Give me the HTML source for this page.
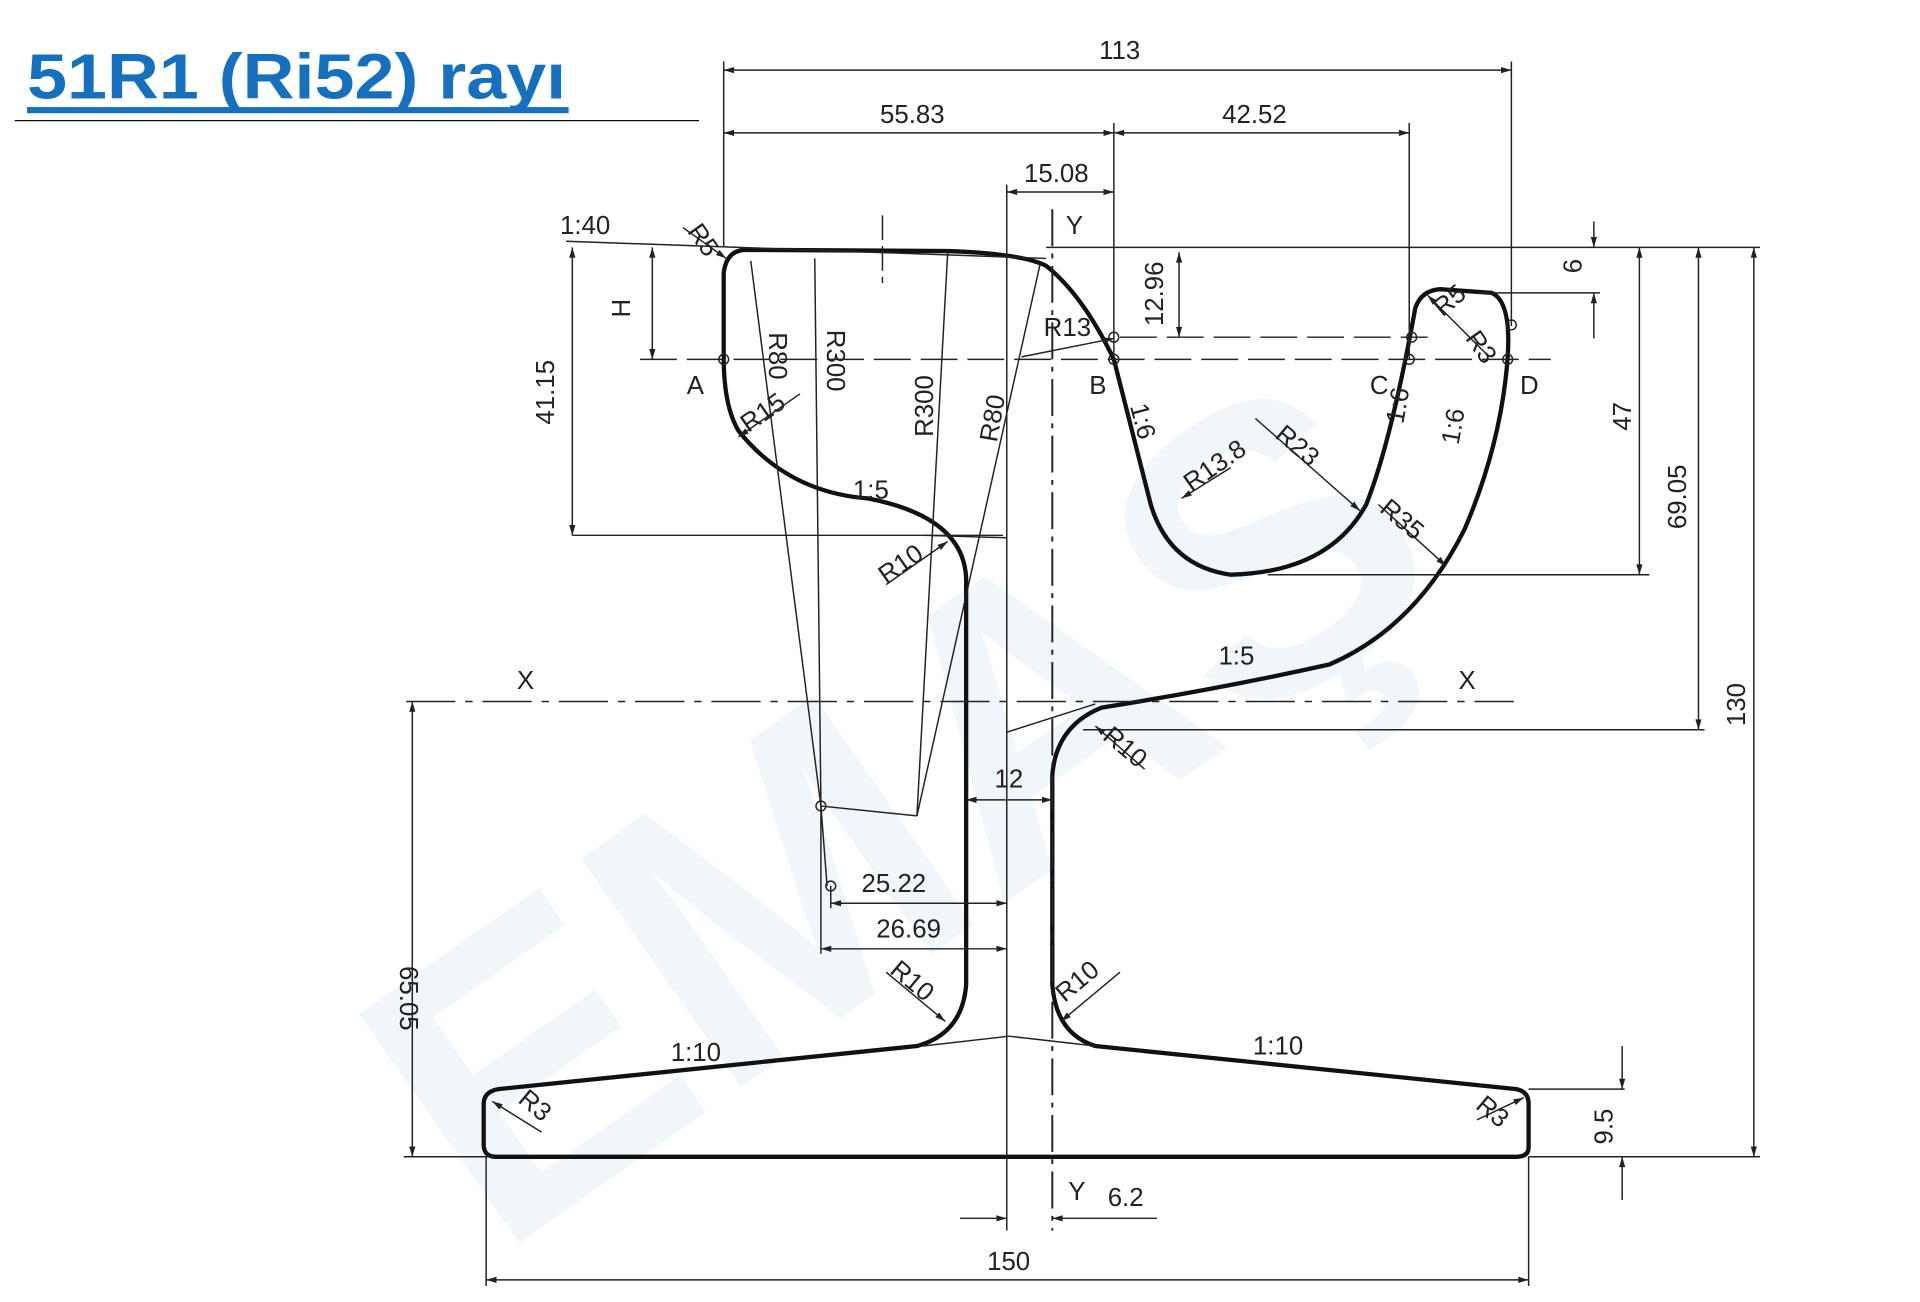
<!DOCTYPE html>
<html><head><meta charset="utf-8"><style>
html,body{margin:0;padding:0;background:#fff;}
svg{display:block}
text{font-family:"Liberation Sans",sans-serif;}
.d{font-size:21px;fill:#222}
</style></head><body>
<svg width="1920" height="1302" viewBox="0 0 1560 1058" preserveAspectRatio="none" xmlns="http://www.w3.org/2000/svg">
<defs><marker id="a" viewBox="0 0 10 10" refX="10" refY="5" markerWidth="10" markerHeight="7" orient="auto-start-reverse"><path d="M0,2 L10,5 L0,8z" fill="#222"/></marker></defs>
<text x="760" y="760" font-size="330" font-weight="bold" fill="#f1f6fb" transform="rotate(-35 760 700)" text-anchor="middle" style="font-family:'Liberation Sans',sans-serif">EMAŞ</text>
<text x="22" y="80" font-size="52" font-weight="bold" fill="#1670c0" textLength="438" lengthAdjust="spacingAndGlyphs">51R1 (Ri52) rayı</text>
<rect x="22" y="87" width="440" height="5" fill="#1670c0"/>
<line x1="12" y1="98" x2="568" y2="98" stroke="#111" stroke-width="1"/>
<path d="M605,203 L770,204 Q830,206 850,216 Q880,240 905,292 L935,410 Q950,460 1000,467 Q1080,465 1110,410 Q1130,360 1150,250 Q1155,236 1170,235 L1212,238 Q1228,245 1225,290 Q1220,360 1190,430 Q1150,510 1080,540 Q990,560 895,575 Q858,590 855,630 L855,800 Q858,840 890,850 L1232,885 Q1242,887 1242,897 L1242,932 Q1242,940 1232,940 L403,940 Q393,940 393,930 L393,897 Q393,887 405,885 L745,850 Q782,840 785,800 L785,470 Q783,420 705,405 Q640,400 600,350 Q588,330 588,290 L588,222 Q590,204 605,203 Z" fill="none" stroke="#111" stroke-width="3.5"/>
<g stroke="#222" stroke-width="1.2" fill="none">
<line x1="588" y1="57" x2="1228" y2="57" marker-start="url(#a)" marker-end="url(#a)"/>
<line x1="588" y1="50" x2="588" y2="200"/><line x1="1228" y1="50" x2="1228" y2="265"/>
<line x1="588" y1="108" x2="905" y2="108" marker-start="url(#a)" marker-end="url(#a)"/>
<line x1="905" y1="108" x2="1145" y2="108" marker-start="url(#a)" marker-end="url(#a)"/>
<line x1="905" y1="100" x2="905" y2="292"/><line x1="1145" y1="100" x2="1145" y2="292"/>
<line x1="818" y1="156" x2="905" y2="156" marker-start="url(#a)" marker-end="url(#a)"/>
<line x1="818" y1="150" x2="818" y2="1000"/>
<line x1="855" y1="170" x2="855" y2="1000" stroke-dasharray="30,6,4,6" stroke-width="1.6"/>
<line x1="850" y1="201" x2="1430" y2="201"/>
<line x1="1295" y1="180" x2="1295" y2="201" marker-end="url(#a)"/><line x1="1295" y1="275" x2="1295" y2="238" marker-end="url(#a)"/>
<line x1="1200" y1="238" x2="1300" y2="238"/>
<line x1="1332" y1="201" x2="1332" y2="467" marker-start="url(#a)" marker-end="url(#a)"/>
<line x1="1030" y1="467" x2="1340" y2="467"/>
<line x1="1380" y1="201" x2="1380" y2="593" marker-start="url(#a)" marker-end="url(#a)"/>
<line x1="880" y1="593" x2="1385" y2="593"/>
<line x1="1425" y1="201" x2="1425" y2="940" marker-start="url(#a)" marker-end="url(#a)"/>
<line x1="1242" y1="940" x2="1430" y2="940"/>
<line x1="1242" y1="885" x2="1320" y2="885"/>
<line x1="1318" y1="850" x2="1318" y2="885" marker-end="url(#a)"/><line x1="1318" y1="975" x2="1318" y2="940" marker-end="url(#a)"/>
<line x1="460" y1="196" x2="850" y2="210"/>
<line x1="465" y1="201" x2="465" y2="435" marker-start="url(#a)" marker-end="url(#a)"/>
<line x1="465" y1="435" x2="815" y2="435"/>
<line x1="530" y1="201" x2="530" y2="292" marker-start="url(#a)" marker-end="url(#a)"/>
<line x1="520" y1="292" x2="1260" y2="292" stroke-dasharray="30,8"/>
<line x1="910" y1="274" x2="1160" y2="274" stroke-dasharray="30,8"/>
<line x1="958" y1="205" x2="958" y2="274" marker-start="url(#a)" marker-end="url(#a)"/>
<line x1="330" y1="570" x2="1230" y2="570" stroke-dasharray="40,8,6,8"/>
<line x1="335" y1="570" x2="335" y2="940" marker-start="url(#a)" marker-end="url(#a)"/>
<line x1="328" y1="940" x2="400" y2="940"/>
<line x1="395" y1="1040" x2="1242" y2="1040" marker-start="url(#a)" marker-end="url(#a)"/>
<line x1="395" y1="940" x2="395" y2="1045"/><line x1="1242" y1="940" x2="1242" y2="1045"/>
<line x1="780" y1="990" x2="818" y2="990" marker-end="url(#a)"/><line x1="940" y1="990" x2="855" y2="990" marker-end="url(#a)"/>
<line x1="785" y1="650" x2="855" y2="650" marker-start="url(#a)" marker-end="url(#a)"/>
<line x1="675" y1="734" x2="818" y2="734" marker-start="url(#a)" marker-end="url(#a)"/>
<line x1="667" y1="771" x2="818" y2="771" marker-start="url(#a)" marker-end="url(#a)"/>
<line x1="667" y1="655" x2="667" y2="775"/><line x1="675" y1="720" x2="675" y2="738"/>
<line x1="610" y1="212" x2="667" y2="655"/><line x1="667" y1="655" x2="745" y2="663"/>
<line x1="745" y1="663" x2="845" y2="215"/><line x1="770" y1="205" x2="745" y2="663"/>
<line x1="662" y1="210" x2="667" y2="655"/><line x1="717" y1="175" x2="717" y2="230" stroke-dasharray="20,5"/>
<line x1="667" y1="655" x2="672" y2="720"/>
<line x1="750" y1="435" x2="818" y2="437"/>
<line x1="818" y1="595" x2="890" y2="572"/>
<line x1="750" y1="850" x2="820" y2="842"/><line x1="820" y1="842" x2="890" y2="850"/>
<line x1="830" y1="290" x2="905" y2="275" marker-end="url(#a)"/>
<line x1="555" y1="185" x2="590" y2="210" marker-end="url(#a)"/>
<line x1="650" y1="320" x2="600" y2="355" marker-end="url(#a)"/>
<line x1="770" y1="440" x2="720" y2="475" marker-start="url(#a)"/>
<line x1="960" y1="405" x2="1000" y2="380" marker-start="url(#a)"/>
<line x1="1020" y1="340" x2="1105" y2="415" marker-end="url(#a)"/>
<line x1="1120" y1="410" x2="1175" y2="460" marker-end="url(#a)"/>
<line x1="1210" y1="290" x2="1160" y2="240" marker-end="url(#a)"/>
<line x1="890" y1="590" x2="930" y2="625" marker-start="url(#a)"/>
<line x1="720" y1="790" x2="768" y2="830" marker-end="url(#a)"/>
<line x1="910" y1="790" x2="862" y2="830" marker-end="url(#a)"/>
<line x1="440" y1="920" x2="400" y2="895" marker-end="url(#a)"/>
<line x1="1200" y1="910" x2="1238" y2="892" marker-end="url(#a)"/>
</g>
<g fill="none" stroke="#222" stroke-width="1.2"><circle cx="588" cy="292" r="4"/><circle cx="905" cy="292" r="4"/><circle cx="1145" cy="292" r="4"/><circle cx="1225" cy="292" r="4"/><circle cx="1147" cy="274" r="4"/><circle cx="905" cy="274" r="4"/><circle cx="667" cy="655" r="4"/><circle cx="675" cy="720" r="4"/><circle cx="1228" cy="264" r="4"/></g>
<g class="d">
<text x="893" y="48">113</text><text x="715" y="100">55.83</text><text x="993" y="100">42.52</text><text x="832" y="148">15.08</text>
<text x="866" y="190">Y</text><text x="455" y="190">1:40</text><text x="558" y="320">A</text><text x="885" y="320">B</text><text x="1113" y="320">C</text><text x="1235" y="320">D</text>
<text x="848" y="273">R13</text><text x="420" y="560">X</text><text x="1185" y="560">X</text><text x="808" y="640">12</text>
<text x="700" y="725">25.22</text><text x="712" y="762">26.69</text><text x="545" y="862">1:10</text><text x="1018" y="857">1:10</text>
<text x="693" y="405">1:5</text><text x="990" y="540">1:5</text><text x="868" y="975">Y</text><text x="900" y="980">6.2</text><text x="802" y="1032">150</text>
<text transform="translate(558,188) rotate(55)">R5</text>
<text transform="translate(450,345) rotate(-90)">41.15</text><text transform="translate(512,258) rotate(-90)">H</text>
<text transform="translate(625,270) rotate(90)">R80</text><text transform="translate(672,268) rotate(90)">R300</text>
<text transform="translate(758,355) rotate(-90)">R300</text><text transform="translate(810,360) rotate(-80)">R80</text>
<text transform="translate(608,352) rotate(-35)">R15</text><text transform="translate(720,475) rotate(-35)">R10</text>
<text transform="translate(945,265) rotate(-90)">12.96</text><text transform="translate(918,330) rotate(75)">1:6</text>
<text transform="translate(968,400) rotate(-35)">R13.8</text><text transform="translate(1035,355) rotate(40)">R23</text>
<text transform="translate(1120,415) rotate(40)">R35</text><text transform="translate(1140,345) rotate(-80)">1:6</text><text transform="translate(1185,362) rotate(-80)">1:6</text>
<text transform="translate(1172,258) rotate(-40)">R5</text><text transform="translate(1190,275) rotate(55)">R3</text>
<text transform="translate(1285,222) rotate(-90)">6</text><text transform="translate(1325,350) rotate(-90)">47</text>
<text transform="translate(1370,430) rotate(-90)">69.05</text><text transform="translate(1418,590) rotate(-90)">130</text>
<text transform="translate(1310,930) rotate(-90)">9.5</text><text transform="translate(325,785) rotate(90)">65.05</text>
<text transform="translate(895,600) rotate(40)">R10</text><text transform="translate(722,790) rotate(40)">R10</text>
<text transform="translate(865,815) rotate(-40)">R10</text><text transform="translate(420,895) rotate(40)">R3</text><text transform="translate(1198,900) rotate(40)">R3</text>
</g>
</svg>
</body></html>
